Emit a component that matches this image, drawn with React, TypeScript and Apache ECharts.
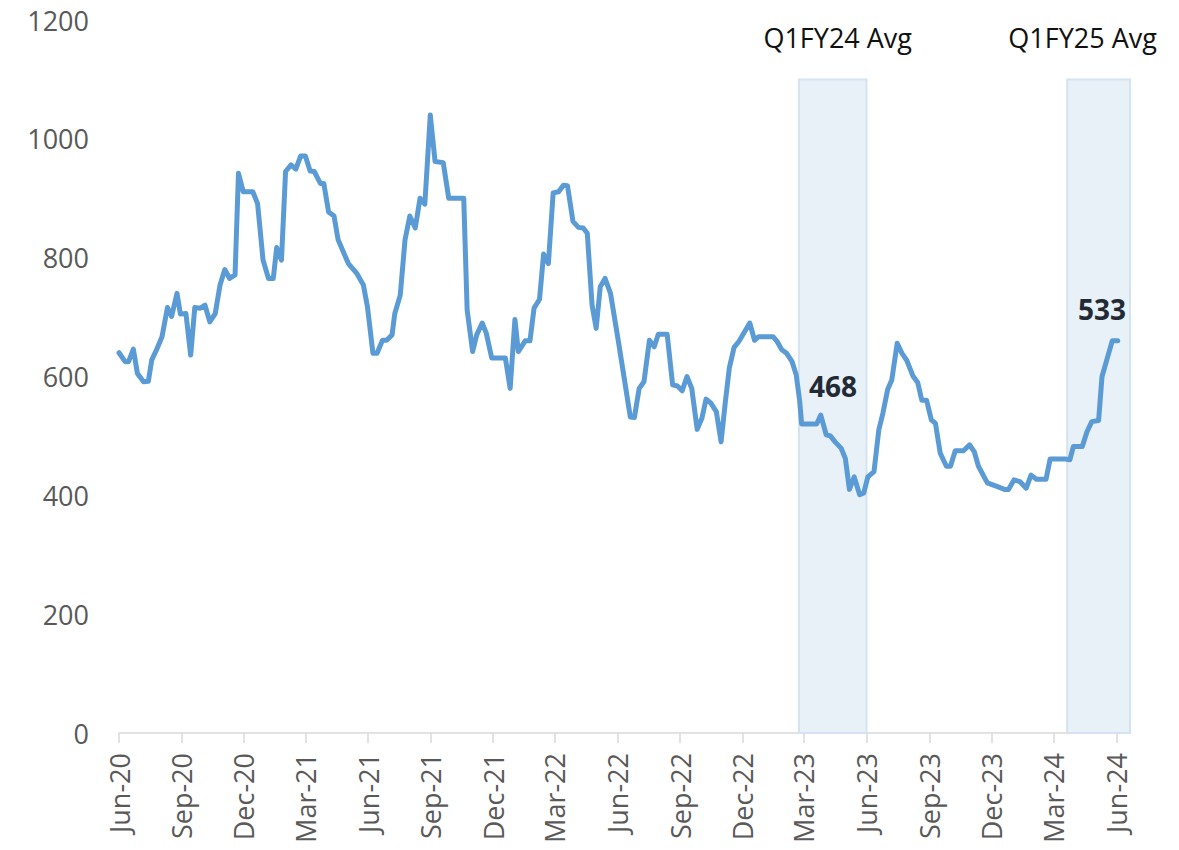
import React, { useEffect, useRef } from "react";
import * as echarts from "echarts";

const dates = [
  "2020-06-01","2020-06-10","2020-06-15","2020-06-22","2020-06-28","2020-07-07","2020-07-14","2020-07-19","2020-07-26","2020-08-03",
  "2020-08-11","2020-08-17","2020-08-25","2020-08-30","2020-09-07","2020-09-14","2020-09-20","2020-09-28","2020-10-05","2020-10-12",
  "2020-10-20","2020-10-27","2020-11-03","2020-11-10","2020-11-18","2020-11-23","2020-11-30","2020-12-14","2020-12-21","2020-12-29",
  "2021-01-06","2021-01-13","2021-01-18","2021-01-25","2021-01-31","2021-02-08","2021-02-15","2021-02-22","2021-03-01","2021-03-08",
  "2021-03-14","2021-03-23","2021-03-28","2021-04-04","2021-04-12","2021-04-18","2021-05-03","2021-05-15","2021-05-25","2021-05-31",
  "2021-06-08","2021-06-14","2021-06-22","2021-06-28","2021-07-06","2021-07-10","2021-07-18","2021-07-25","2021-08-01","2021-08-09",
  "2021-08-16","2021-08-23","2021-08-31","2021-09-07","2021-09-19","2021-09-27","2021-10-19","2021-10-24","2021-11-01","2021-11-07",
  "2021-11-15","2021-11-21","2021-11-29","2021-12-19","2021-12-26",
  "2022-01-02","2022-01-07","2022-01-17","2022-01-24","2022-01-30","2022-02-07","2022-02-13","2022-02-20","2022-02-27","2022-03-07",
  "2022-03-14","2022-03-20","2022-03-28","2022-04-05","2022-04-12","2022-04-18","2022-04-25","2022-05-01","2022-05-07","2022-05-14",
  "2022-05-22","2022-06-03","2022-06-20","2022-06-26","2022-07-03","2022-07-10","2022-07-18","2022-07-25","2022-07-31","2022-08-13",
  "2022-08-21","2022-08-28","2022-09-04","2022-09-11","2022-09-18","2022-09-26","2022-10-03","2022-10-09","2022-10-16","2022-10-24",
  "2022-10-31","2022-11-06","2022-11-12","2022-11-19","2022-11-26","2022-12-12","2022-12-19","2022-12-25",
  "2023-01-15","2023-01-21","2023-01-28","2023-02-04","2023-02-12","2023-02-18","2023-02-23","2023-02-26","2023-03-20","2023-03-26",
  "2023-04-03","2023-04-09","2023-04-16","2023-04-25","2023-05-01","2023-05-07","2023-05-14","2023-05-22","2023-05-28","2023-06-03",
  "2023-06-12","2023-06-19","2023-06-25","2023-07-02","2023-07-08","2023-07-16","2023-07-23","2023-07-30","2023-08-08","2023-08-15",
  "2023-08-21","2023-08-28","2023-09-04","2023-09-10","2023-09-17","2023-09-26","2023-10-02","2023-10-09","2023-10-21","2023-10-30",
  "2023-11-06","2023-11-12","2023-11-25","2023-12-09","2023-12-20","2023-12-26",
  "2024-01-03","2024-01-12","2024-01-21","2024-01-28","2024-02-05","2024-02-19","2024-02-25","2024-03-18","2024-03-25","2024-03-30",
  "2024-04-12","2024-04-19","2024-04-26","2024-05-06","2024-05-11","2024-05-18","2024-05-26","2024-06-03",
];

const prices = [
  640, 625, 625, 646, 605, 591, 592, 628, 645, 667,
  716, 701, 740, 705, 706, 636, 716, 715, 720, 692,
  706, 754, 780, 765, 771, 942, 911, 911, 891, 796,
  765, 765, 817, 796, 945, 956, 949, 971, 971, 946,
  945, 925, 925, 877, 870, 830, 790, 774, 754, 717,
  639, 639, 661, 661, 670, 706, 737, 830, 870, 850,
  900, 890, 1040, 962, 960, 900, 900, 712, 642, 670,
  690, 673, 631, 631, 580,
  696, 642, 660, 660, 715, 730, 806, 790, 909, 911,
  922, 921, 861, 851, 850, 841, 720, 681, 751, 765,
  740, 656, 532, 531, 580, 591, 661, 650, 671, 671,
  586, 584, 576, 600, 580, 511, 530, 562, 555, 541,
  490, 555, 614, 649, 659, 690, 661, 667,
  667, 659, 645, 639, 625, 603, 560, 520, 520, 535,
  502, 500, 490, 479, 462, 410, 431, 401, 404, 431,
  440, 510, 538, 578, 594, 656, 639, 627, 601, 590,
  560, 560, 527, 521, 471, 449, 449, 475, 475, 485,
  473, 449, 421, 415, 410, 410,
  426, 423, 412, 434, 427, 427, 461, 461, 460, 482,
  482, 507, 524, 526, 600, 628, 660, 660,
];

const tickLabels = [
  "Jun-20","Sep-20","Dec-20","Mar-21","Jun-21","Sep-21","Dec-21","Mar-22",
  "Jun-22","Sep-22","Dec-22","Mar-23","Jun-23","Sep-23","Dec-23","Mar-24","Jun-24",
];
const axisStart = "2020-06-01";
const axisEnd = "2024-06-21";
const yMin = 0;
const yMax = 1200;
const yStep = 200;

const bandNames = ["Q1FY24 Avg", "Q1FY25 Avg"];
const bandStart = ["2023-02-22", "2024-03-21"];
const bandEnd = ["2023-06-01", "2024-06-21"];
const bandTop = 1100;
const bandAvg = [468, 533];
const avgLabelDate = ["2023-04-13", "2024-05-11"];
const avgLabelLevel = [584, 713];

const MONTHS = ["Jan","Feb","Mar","Apr","May","Jun","Jul","Aug","Sep","Oct","Nov","Dec"];

function ts(s: string): number {
  const [y, m, d] = s.split("-").map(Number);
  return Date.UTC(y, m - 1, d);
}
function tickTs(label: string): number {
  const [mon, yy] = label.split("-");
  return Date.UTC(2000 + Number(yy), MONTHS.indexOf(mon), 1);
}

const FONT = "'Open Sans', 'Noto Sans', sans-serif";

export default function App() {
  const ref = useRef<HTMLDivElement>(null);
  useEffect(() => {
    if (!ref.current) return;
    const chart = echarts.init(ref.current, null, { renderer: "svg" });
    const tickValues = tickLabels.map(tickTs);
    const labelFor = (v: number) => {
      const i = tickValues.indexOf(v);
      return i >= 0 ? tickLabels[i] : "";
    };

    const option: any = {
      animation: false,
      grid: { left: 119, right: 49, top: 20, bottom: 117 },
      xAxis: {
        type: "value",
        min: ts(axisStart),
        max: ts(axisEnd),
        axisLine: { show: true, lineStyle: { color: "#D9D9D9", width: 1.5 } },
        axisTick: {
          show: true,
          length: 10,
          customValues: tickValues,
          lineStyle: { color: "#D9D9D9", width: 1.5 },
        },
        axisLabel: {
          customValues: tickValues,
          rotate: 90,
          margin: 20,
          fontSize: 27,
          color: "#595959",
          fontFamily: FONT,
          formatter: (v: number) => labelFor(v),
        },
        splitLine: { show: false },
      },
      yAxis: {
        type: "value",
        min: yMin,
        max: yMax,
        interval: yStep,
        axisLine: { show: false },
        axisTick: { show: false },
        splitLine: { show: false },
        axisLabel: {
          fontSize: 27,
          color: "#595959",
          margin: 30,
          fontFamily: FONT,
          formatter: (v: number) => String(v),
        },
      },
      series: [
        {
          type: "line",
          data: dates.map((d, i) => [ts(d), prices[i]]),
          symbol: "none",
          showSymbol: false,
          z: 3,
          lineStyle: { color: "#5B9BD5", width: 5, join: "round", cap: "round" },
          markArea: {
            silent: true,
            z: 1,
            itemStyle: { color: "#E8F0F8", borderColor: "#D3E3F2", borderWidth: 2 },
            label: {
              show: true,
              position: "top",
              distance: 27,
              fontSize: 27,
              color: "#111111",
              fontFamily: FONT,
            },
            data: bandNames.map((n, i) => [
              {
                name: n,
                xAxis: ts(bandStart[i]),
                yAxis: bandTop,
                label: { offset: [i === 0 ? 5 : -16, 0] },
              },
              { xAxis: ts(bandEnd[i]), yAxis: yMin },
            ]),
          },
          markPoint: {
            silent: true,
            symbol: "circle",
            symbolSize: 1,
            itemStyle: { color: "rgba(0,0,0,0)" },
            label: {
              show: true,
              position: "inside",
              fontSize: 28,
              fontWeight: "bold",
              color: "#222A35",
              fontFamily: FONT,
              formatter: (p: any) => String(p.value),
            },
            data: bandAvg.map((v, i) => ({
              coord: [ts(avgLabelDate[i]), avgLabelLevel[i]],
              value: v,
            })),
          },
        },
      ],
    };
    chart.setOption(option);
    return () => chart.dispose();
  }, []);

  return (
    <div
      ref={ref}
      style={{ position: "absolute", left: 0, top: 0, width: 1179, height: 850, background: "#fff" }}
    />
  );
}
